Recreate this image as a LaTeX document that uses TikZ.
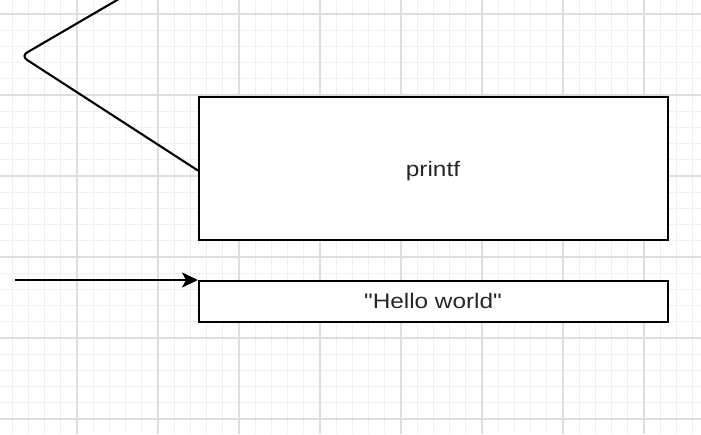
\documentclass[tikz,border=0pt]{standalone}
\usepackage{fontspec}
\setmainfont{Liberation Sans}[Ligatures=TeXOff]
\usetikzlibrary{arrows.meta}
\tikzset{
  boxnode/.style={draw=black, line width=2.1pt, fill=white, anchor=north west, inner sep=0pt},
  wire/.style={draw=black, line width=2.1pt},
  labeltext/.style={font=\fontsize{21}{25}\selectfont, text=black!85}
}
\begin{document}
\begin{tikzpicture}[x=1pt,y=-1pt]
\useasboundingbox (0,0) rectangle (701,434);
\clip (0,0) rectangle (701,434);
\fill[white] (0,0) rectangle (701,434);
% minor grid
\foreach \i in {0,...,44} {
  \draw[black!6, line width=0.8pt] ({-4+16.2*\i},0) -- ({-4+16.2*\i},434);
}
\foreach \j in {-1,...,27} {
  \draw[black!6, line width=0.8pt] (0,{14+16.2*\j}) -- (701,{14+16.2*\j});
}
% major grid
\foreach \i in {0,...,9} {
  \draw[black!13, line width=1.2pt] ({-4+81*\i},0) -- ({-4+81*\i},434);
}
\foreach \j in {0,...,6} {
  \draw[black!13, line width=1.2pt] (0,{14+81*\j}) -- (701,{14+81*\j});
}
% boxes
\node[boxnode, minimum width=469pt, minimum height=143pt] (printf) at (198,96) {};
\node[labeltext] (printflabel) at (433,171) {\scalebox{1.16}[1]{printf}};
\node[boxnode, minimum width=469pt, minimum height=41pt] (hello) at (198,280) {};
\node[labeltext] (hellolabel) at (433,301) {\scalebox{1.16}[1]{"Hello world"}};
% connectors
\coordinate (topend) at (124,-4);
\coordinate (bend) at (21,56);
\draw[wire, rounded corners=7pt, line join=round] (topend) -- (bend) -- ([yshift=-2pt]printf.west);
\coordinate (arrowstart) at (15,280);
\draw[wire, -{Stealth[length=16pt,width=15pt,inset=4pt]}] (arrowstart) -- (hello.north west);
\end{tikzpicture}
\end{document}
